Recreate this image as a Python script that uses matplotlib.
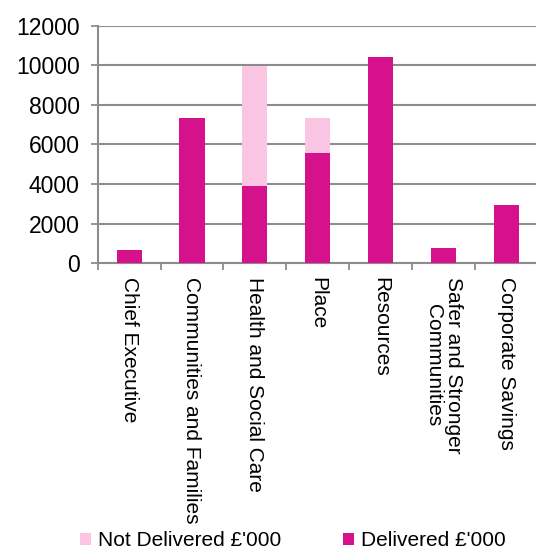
import matplotlib.pyplot as plt
import numpy as np

# data (£'000)
categories = ["Chief Executive", "Communities and Families", "Health and Social Care",
              "Place", "Resources", "Safer and Stronger\nCommunities", "Corporate Savings"]
delivered = [670, 7320, 3920, 5590, 10420, 780, 2960]
not_delivered = [0, 0, 6040, 1730, 0, 0, 0]

dark = "#D5118C"
light = "#FAC5E3"
grid = "#8C8C8C"

plt.rcParams['font.family'] = ['Liberation Sans', 'DejaVu Sans']

fig = plt.figure(figsize=(5.36, 5.5), dpi=100)
ax = fig.add_axes([0.1823, 0.5213, 0.8205, 0.432])

x = np.arange(len(categories))
b1 = ax.bar(x, delivered, width=0.4, color=dark, zorder=3, label="Delivered £'000")
b2 = ax.bar(x, not_delivered, width=0.4, bottom=delivered, color=light, zorder=3,
            label="Not Delivered £'000")

ax.set_xlim(-0.5, len(categories) - 0.5)
ax.set_ylim(0, 12000)
ax.set_yticks(np.arange(0, 12001, 2000))
ax.set_xticks(np.arange(-0.5, len(categories), 1.0), minor=False)
ax.set_xticklabels([])
ax.set_xticks(x, minor=True)
ax.set_xticklabels(categories, minor=True, rotation=-90, fontsize=15,
                   va='top', ha='center', linespacing=1.05)
ax.tick_params(axis='x', which='minor', length=0, pad=10)
ax.tick_params(axis='x', which='major', length=5, width=1.3, color=grid)
ax.tick_params(axis='y', length=5, width=1.3, color=grid, labelsize=16.5, pad=8)

ax.yaxis.grid(True, color=grid, linewidth=1.5, zorder=0)
for s in ['top', 'right']:
    ax.spines[s].set_visible(False)
for s in ['left', 'bottom']:
    ax.spines[s].set_color(grid)
    ax.spines[s].set_linewidth(1.5)

leg = fig.legend([b2, b1], ["Not Delivered £'000", "Delivered £'000"],
                 loc='lower center', bbox_to_anchor=(0.5465, -0.035), ncol=2, frameon=False,
                 fontsize=15, handlelength=0.53, handleheight=0.53, handletextpad=0.3,
                 columnspacing=3.0)

fig.savefig("out.png", dpi=100)
